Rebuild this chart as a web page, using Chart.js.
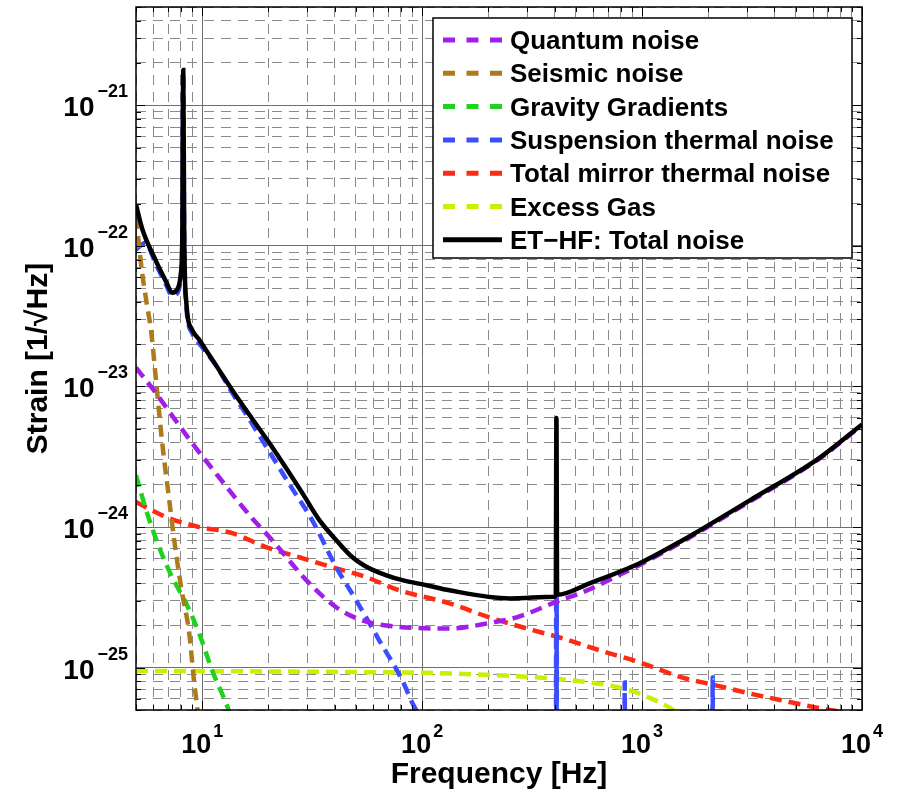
<!DOCTYPE html>
<html>
<head>
<meta charset="utf-8">
<script src="https://cdn.jsdelivr.net/npm/chart.js@4.4.1/dist/chart.umd.min.js"></script>
<style>
  html, body { margin: 0; padding: 0; background: #fff; }
</style>
</head>
<body>
<canvas id="noiseChart" width="899" height="799"></canvas>
<script>
// ET-HF noise budget, strain in 1/sqrt(Hz)
const quantumF = [5, 5.9, 9, 11.9, 16.9, 20.2, 30.7, 40.7, 53.5, 81.3, 133, 209, 269, 422, 537, 817, 975, 1530, 3090, 6240, 10000];
const quantumH = [1.36e-23, 9.8e-24, 3.96e-24, 2.27e-24, 1.15e-24, 8.5e-25, 3.98e-25, 2.69e-25, 2.17e-25, 1.94e-25, 1.9e-25, 2.1e-25, 2.28e-25, 3.01e-25, 3.44e-25, 4.69e-25, 5.37e-25, 7.9e-25, 1.52e-24, 2.98e-24, 5.3e-24];

const seismicF = [5, 5.33, 5.56, 5.87, 6.18, 6.58, 7.08, 7.46, 8.02, 8.73, 9.2, 9.49, 9.7];
const seismicH = [1.6e-22, 6.45e-23, 4.14e-23, 2.41e-23, 1.06e-23, 3.96e-24, 1.56e-24, 8.07e-25, 3.73e-25, 1.75e-25, 7.75e-26, 5.2e-26, 3.5e-26];

const gravityF = [5, 5.56, 6.37, 7.3, 8.45, 9.69, 11.1, 12.85, 13.3];
const gravityH = [2.34e-24, 1.32e-24, 7.2e-25, 4.4e-25, 2.87e-25, 1.75e-25, 9.55e-26, 5.56e-26, 4.8e-26];

const suspF = [5, 5.5, 6.18, 6.85, 7.3, 7.7, 8.0, 8.12, 8.2, 8.28, 8.45, 9, 10, 11.6, 13.7, 16, 21.3, 25, 31.6, 40.7, 50.1, 63.9, 81.3, 90.3, 100, 150, 300, 405, 407, 408, 409, 411, 828, 834, 840, 2080, 2094, 2108, 10000];
const suspH = [9.4e-23, 1.05e-22, 7.3e-23, 5.3e-23, 4.4e-23, 4.6e-23, 6.1e-23, 1.1e-22, 1.7e-21, 1.2e-22, 3.9e-23, 2.4e-23, 1.9e-23, 1.4e-23, 9.0e-24, 6.2e-24, 3.0e-24, 2.0e-24, 1.12e-24, 5.18e-25, 3.02e-25, 1.56e-25, 8.1e-26, 5.6e-26, 4.2e-26, 1.4e-26, 2e-27, 1e-27, 3.27e-25, 1e-27, 3.27e-25, 1e-27, 1e-27, 7.85e-26, 1e-27, 1e-27, 8.5e-26, 1e-27, 1e-27];

const mirrorF = [5, 6.85, 9.69, 13.7, 19.5, 27.6, 39.1, 55.7, 78.8, 133, 202, 299, 422, 641, 975, 1530, 2188, 3090, 4365, 6240, 10000];
const mirrorH = [1.51e-24, 1.18e-24, 1.0e-24, 9.06e-25, 7.2e-25, 6.1e-25, 5.18e-25, 4.4e-25, 3.55e-25, 2.87e-25, 2.28e-25, 1.9e-25, 1.64e-25, 1.33e-25, 1.09e-25, 8.5e-26, 7.46e-26, 6.55e-26, 5.83e-26, 5.2e-26, 4.6e-26];

const gasF = [5, 50, 133, 380, 577, 712, 880, 1085, 1336, 1490];
const gasH = [9.5e-26, 9.3e-26, 9.1e-26, 8.4e-26, 7.85e-26, 7.47e-26, 6.9e-26, 6.1e-26, 5.2e-26, 4.6e-26];

const totalF = [5, 5.33, 6.18, 6.85, 7.3, 7.7, 8.0, 8.12, 8.2, 8.28, 8.45, 9.0, 9.7, 10, 14.7, 20.2, 28.5, 34.1, 40.7, 48.2, 57.5, 68.8, 81.3, 104.7, 133, 250, 400, 405, 408, 411, 577, 975, 1530, 3090, 6240, 10000];
const totalH = [1.97e-22, 1.33e-22, 7.73e-23, 5.57e-23, 4.65e-23, 4.9e-23, 6.4e-23, 1.2e-22, 1.78e-21, 1.3e-22, 4.14e-23, 2.53e-23, 2.15e-23, 2.0e-23, 8.0e-24, 3.96e-24, 1.75e-24, 1.12e-24, 8.07e-25, 6.1e-25, 5.09e-25, 4.54e-25, 4.19e-25, 3.86e-25, 3.55e-25, 3.11e-25, 3.2e-25, 3.27e-25, 5.97e-24, 3.3e-25, 3.98e-25, 5.53e-25, 8.07e-25, 1.55e-24, 3.02e-24, 5.37e-24];

// axis ranges and labelled decades
const xMin = 5, xMax = 1e4;
const yMin = 5e-26, yMax = 5e-21;
const xLabelExps = [1, 2, 3, 4];
const yLabelExps = [-21, -22, -23, -24, -25];

const FONT = '"Liberation Sans", Arial, Helvetica, sans-serif';
const dashed = [12, 7];

function pts(fs, hs) {
  return fs.map((f, i) => ({ x: f, y: hs[i] }));
}

// 1..9 x 10^n gridlines between lo and hi
function logTicks(lo, hi) {
  const out = [];
  for (let e = Math.floor(Math.log10(lo)); e <= Math.ceil(Math.log10(hi)); e++) {
    for (let m = 1; m <= 9; m++) {
      const v = m * Math.pow(10, e);
      if (v >= lo * 0.999 && v <= hi * 1.001) out.push({ value: v, major: m === 1 });
    }
  }
  return out;
}

const frame = {
  id: 'frame',
  afterDraw(chart) {
    const { ctx, chartArea: a, scales: { x, y } } = chart;
    ctx.save();

    // inward ticks on all four sides
    ctx.strokeStyle = '#000';
    ctx.lineWidth = 1;
    ctx.beginPath();
    x.ticks.forEach(t => {
      const px = Math.round(x.getPixelForValue(t.value)) + 0.5;
      const len = t.major ? 9 : 5;
      ctx.moveTo(px, a.bottom); ctx.lineTo(px, a.bottom - len);
      ctx.moveTo(px, a.top); ctx.lineTo(px, a.top + len);
    });
    y.ticks.forEach(t => {
      const py = Math.round(y.getPixelForValue(t.value)) + 0.5;
      const len = t.major ? 9 : 5;
      ctx.moveTo(a.left, py); ctx.lineTo(a.left + len, py);
      ctx.moveTo(a.right, py); ctx.lineTo(a.right - len, py);
    });
    ctx.stroke();

    // box
    ctx.lineWidth = 1.5;
    ctx.strokeRect(a.left, a.top, a.right - a.left, a.bottom - a.top);

    // tick labels 10^n
    ctx.fillStyle = '#000';
    ctx.textBaseline = 'alphabetic';
    ctx.textAlign = 'left';
    xLabelExps.forEach(e => {
      const px = x.getPixelForValue(Math.pow(10, e));
      ctx.font = 'bold 27px ' + FONT;
      const w1 = ctx.measureText('10').width;
      ctx.font = 'bold 18px ' + FONT;
      const w2 = ctx.measureText(String(e)).width;
      const left = px - (w1 + 2 + w2) / 2;
      ctx.font = 'bold 27px ' + FONT;
      ctx.fillText('10', left, 753);
      ctx.font = 'bold 18px ' + FONT;
      ctx.fillText(String(e), left + w1 + 2, 737);
    });
    yLabelExps.forEach(e => {
      const py = y.getPixelForValue(Math.pow(10, e));
      const sup = '\u2212' + Math.abs(e);
      ctx.font = 'bold 18px ' + FONT;
      const w2 = ctx.measureText(sup).width;
      ctx.font = 'bold 28px ' + FONT;
      const w1 = ctx.measureText('10').width;
      const right = a.left - 8;
      ctx.fillText('10', right - w2 - 3 - w1, py + 11);
      ctx.font = 'bold 18px ' + FONT;
      ctx.fillText(sup, right - w2, py - 8);
    });

    // axis titles
    ctx.font = 'bold 30px ' + FONT;
    ctx.textAlign = 'center';
    ctx.fillText('Frequency [Hz]', (a.left + a.right) / 2, 783);
    ctx.translate(47, (a.top + a.bottom) / 2);
    ctx.rotate(-Math.PI / 2);
    ctx.fillText('Strain [1/\u221AHz]', 0, 0);
    ctx.restore();

    // legend
    ctx.save();
    const lx = 433, ly = 18, lw = 419, lh = 240;
    ctx.fillStyle = '#fff';
    ctx.fillRect(lx, ly, lw, lh);
    ctx.strokeStyle = '#000';
    ctx.lineWidth = 1.5;
    ctx.strokeRect(lx, ly, lw, lh);
    ctx.font = 'bold 26px ' + FONT;
    ctx.textAlign = 'left';
    ctx.textBaseline = 'alphabetic';
    chart.data.datasets.forEach((ds, i) => {
      const cy = 40 + i * 33.3;
      ctx.strokeStyle = ds.borderColor;
      ctx.lineWidth = 5;
      ctx.setLineDash(ds.borderDash ? [12, 11.5] : []);
      ctx.beginPath();
      ctx.moveTo(443, cy);
      ctx.lineTo(502, cy);
      ctx.stroke();
      ctx.setLineDash([]);
      ctx.fillStyle = '#000';
      ctx.fillText(ds.label, 510, cy + 9);
    });
    ctx.restore();
  }
};

const lineStyle = {
  borderWidth: 4.5,
  pointRadius: 0,
  fill: false,
  cubicInterpolationMode: 'monotone',
  clip: 0
};

new Chart(document.getElementById('noiseChart'), {
  type: 'line',
  data: {
    datasets: [
      { ...lineStyle, label: 'Quantum noise', data: pts(quantumF, quantumH), borderColor: '#a01ee8', borderDash: dashed, order: 1 },
      { ...lineStyle, label: 'Seismic noise', data: pts(seismicF, seismicH), borderColor: '#ad7a1c', borderDash: dashed, order: 1 },
      { ...lineStyle, label: 'Gravity Gradients', data: pts(gravityF, gravityH), borderColor: '#1ed21e', borderDash: dashed, order: 1 },
      { ...lineStyle, label: 'Suspension thermal noise', data: pts(suspF, suspH), borderColor: '#3b4dff', borderDash: dashed, order: 1 },
      { ...lineStyle, label: 'Total mirror thermal noise', data: pts(mirrorF, mirrorH), borderColor: '#ff2a14', borderDash: dashed, order: 1 },
      { ...lineStyle, label: 'Excess Gas', data: pts(gasF, gasH), borderColor: '#c8f000', borderDash: dashed, order: 1 },
      { ...lineStyle, label: 'ET\u2212HF: Total noise', data: pts(totalF, totalH), borderColor: '#000000', order: 0 }
    ]
  },
  options: {
    responsive: false,
    animation: false,
    events: [],
    layout: { padding: { left: 136, right: 37, top: 7, bottom: 89 } },
    scales: {
      x: {
        type: 'logarithmic',
        min: xMin,
        max: xMax,
        afterBuildTicks: s => { s.ticks = logTicks(xMin, xMax); },
        ticks: { display: false },
        grid: {
          drawTicks: false,
          lineWidth: 1,
          color: c => (c.tick && c.tick.major ? '#6f6f6f' : '#8a8a8a')
        },
        border: { display: false, dash: c => (c.tick && c.tick.major ? [] : [10, 7]) }
      },
      y: {
        type: 'logarithmic',
        min: yMin,
        max: yMax,
        afterBuildTicks: s => { s.ticks = logTicks(yMin, yMax); },
        ticks: { display: false },
        grid: {
          drawTicks: false,
          lineWidth: 1,
          color: c => (c.tick && c.tick.major ? '#6f6f6f' : '#8a8a8a')
        },
        border: { display: false, dash: c => (c.tick && c.tick.major ? [] : [10, 7]) }
      }
    },
    plugins: {
      legend: { display: false },
      tooltip: { enabled: false }
    }
  },
  plugins: [frame]
});
</script>
</body>
</html>
